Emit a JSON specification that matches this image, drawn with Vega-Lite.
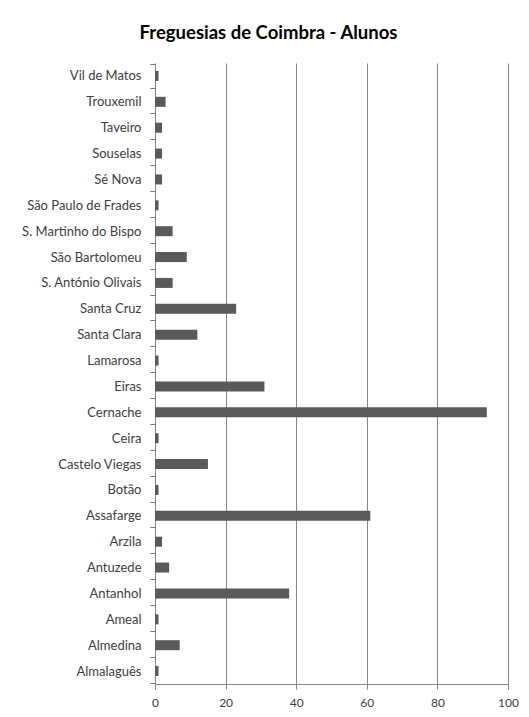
{
  "$schema": "https://vega.github.io/schema/vega-lite/v6.json",
  "width": 353,
  "height": 621,
  "autosize": "none",
  "padding": {"left": 155, "top": 63, "right": 21, "bottom": 33},
  "background": "white",
  "title": {
    "text": "Freguesias de Coimbra - Alunos",
    "font": "Lato",
    "fontSize": 18.5,
    "fontWeight": "bold",
    "color": "#000000",
    "anchor": "middle",
    "dx": -63,
    "offset": 15
  },
  "data": {
    "values": [
      {"freguesia": "Vil de Matos", "alunos": 1},
      {"freguesia": "Trouxemil", "alunos": 3},
      {"freguesia": "Taveiro", "alunos": 2},
      {"freguesia": "Souselas", "alunos": 2},
      {"freguesia": "Sé Nova", "alunos": 2},
      {"freguesia": "São Paulo de Frades", "alunos": 1},
      {"freguesia": "S. Martinho do Bispo", "alunos": 5},
      {"freguesia": "São Bartolomeu", "alunos": 9},
      {"freguesia": "S. António Olivais", "alunos": 5},
      {"freguesia": "Santa Cruz", "alunos": 23},
      {"freguesia": "Santa Clara", "alunos": 12},
      {"freguesia": "Lamarosa", "alunos": 1},
      {"freguesia": "Eiras", "alunos": 31},
      {"freguesia": "Cernache", "alunos": 94},
      {"freguesia": "Ceira", "alunos": 1},
      {"freguesia": "Castelo Viegas", "alunos": 15},
      {"freguesia": "Botão", "alunos": 1},
      {"freguesia": "Assafarge", "alunos": 61},
      {"freguesia": "Arzila", "alunos": 2},
      {"freguesia": "Antuzede", "alunos": 4},
      {"freguesia": "Antanhol", "alunos": 38},
      {"freguesia": "Ameal", "alunos": 1},
      {"freguesia": "Almedina", "alunos": 7},
      {"freguesia": "Almalaguês", "alunos": 1}
    ]
  },
  "mark": {"type": "bar", "color": "#5a5a5a", "size": 10},
  "encoding": {
    "y": {
      "field": "freguesia",
      "type": "nominal",
      "sort": null,
      "title": null,
      "axis": {
        "tickBand": "extent",
        "ticks": true,
        "tickSize": 5,
        "tickWidth": 1,
        "tickColor": "#777777",
        "domainColor": "#868686",
        "labelFont": "Lato",
        "labelFontSize": 13,
        "labelColor": "#404040",
        "labelPadding": 9,
        "labelLimit": 200
      }
    },
    "x": {
      "field": "alunos",
      "type": "quantitative",
      "title": null,
      "scale": {"domain": [0, 100], "nice": false},
      "axis": {
        "values": [0, 20, 40, 60, 80, 100],
        "grid": true,
        "gridColor": "#868686",
        "gridOpacity": 1,
        "tickColor": "#868686",
        "domainColor": "#868686",
        "tickSize": 5,
        "labelFont": "Lato",
        "labelFontSize": 12,
        "labelColor": "#404040",
        "labelPadding": 8,
        "labelFlush": false
      }
    }
  },
  "config": {"view": {"stroke": null}}
}
